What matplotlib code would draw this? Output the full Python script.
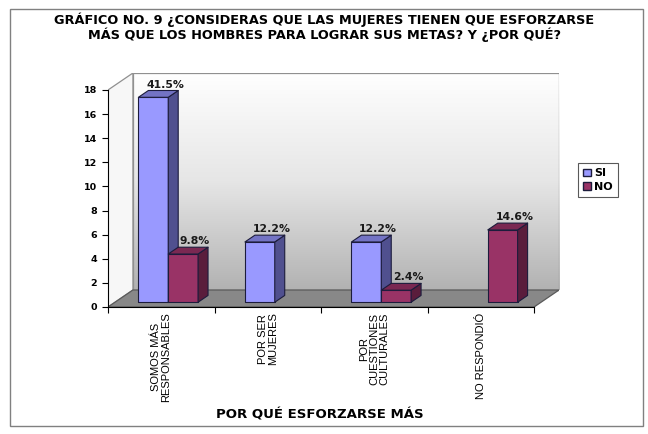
import numpy as np
import matplotlib.pyplot as plt
from matplotlib.colors import LinearSegmentedColormap
from matplotlib.patches import Polygon, Patch, Rectangle

plt.rcParams['font.family'] = ['Liberation Sans', 'DejaVu Sans']

categorias = ["SOMOS MÁS\nRESPONSABLES", "POR SER\nMUJERES",
              "POR\nCUESTIONES\nCULTURALES", "NO RESPONDIÓ"]
si = [17, 5, 5, 0]
no = [4, 0, 1, 6]
pct_si = ["41.5%", "12.2%", "12.2%", ""]
pct_no = ["9.8%", "", "2.4%", "14.6%"]
yticks = [0, 2, 4, 6, 8, 10, 12, 14, 16, 18]

titulo = ("GRÁFICO NO. 9 ¿CONSIDERAS QUE LAS MUJERES TIENEN QUE ESFORZARSE\n"
          "MÁS QUE LOS HOMBRES PARA LOGRAR SUS METAS? Y ¿POR QUÉ?")

# profundidad del efecto 3D (en unidades de datos)
DX, DY = 0.234, 1.41
W = 0.28          # ancho de cada barra
F0, F1 = 0.28, 0.68   # posicion de las barras dentro del fondo

col_si = ("#9999ff", "#7373c4", "#50508f")   # frente, arriba, lado
col_no = ("#993366", "#7a2852", "#5a1d3c")
borde = "#1c1c3c"
negrita = ['DejaVu Sans']

fig = plt.figure(figsize=(6.48, 4.34), dpi=100)
fig.patches.append(Rectangle((10 / 648, 1 - 426 / 434), 633 / 648, 417 / 434,
                             transform=fig.transFigure, fill=False,
                             edgecolor="#808080", linewidth=1.0))

ax = fig.add_axes([108 / 648, 1 - 307 / 434, 451 / 648, 234 / 434])
ax.set_xlim(0, len(categorias) + DX)
ax.set_ylim(0, yticks[-1] + DY)
ax.patch.set_visible(False)

ymax = yticks[-1]
n = len(categorias)

# pared del fondo con degradado (blanco arriba, gris abajo)
grad = np.linspace(1.0, 0.0, 256).reshape(-1, 1)
cmap_pared = LinearSegmentedColormap.from_list("pared", ["#ffffff", "#e6e6e6", "#b2b2b2"])
ax.imshow(grad, cmap=cmap_pared, vmin=0, vmax=1,
          extent=(DX, n + DX, DY, ymax + DY), aspect="auto", origin="lower", zorder=0)
ax.add_patch(Polygon([(DX, DY), (n + DX, DY), (n + DX, ymax + DY), (DX, ymax + DY)],
                     closed=True, fill=False, edgecolor="#909090", lw=0.9, zorder=1))
# pared izquierda
ax.add_patch(Polygon([(0, 0), (DX, DY), (DX, ymax + DY), (0, ymax)],
                     closed=True, facecolor="#f7f7f7", edgecolor="#909090", lw=0.9, zorder=1))
# piso
ax.add_patch(Polygon([(0, 0), (n, 0), (n + DX, DY), (DX, DY)],
                     closed=True, facecolor="#888888", edgecolor="#5a5a5a", lw=0.9, zorder=1))


def barra3d(x0, h, colores):
    fr, tp, sd = colores
    ox, oy = F0 * DX, F0 * DY
    bx, by = (F1 - F0) * DX, (F1 - F0) * DY
    x = x0 + ox
    caras = [
        ([(x, oy), (x + W, oy), (x + W, oy + h), (x, oy + h)], fr),
        ([(x + W, oy), (x + W + bx, oy + by), (x + W + bx, oy + h + by), (x + W, oy + h)], sd),
        ([(x, oy + h), (x + W, oy + h), (x + W + bx, oy + h + by), (x + bx, oy + h + by)], tp),
    ]
    for pts, c in caras:
        ax.add_patch(Polygon(pts, closed=True, facecolor=c, edgecolor=borde,
                             lw=0.8, joinstyle="round", zorder=3))


for i in range(n):
    centro = i + 0.5
    for x0, h, lab, cols in ((centro - W, si[i], pct_si[i], col_si),
                             (centro, no[i], pct_no[i], col_no)):
        if h <= 0:
            continue
        barra3d(x0, h, cols)
        ax.text(x0 + W / 2 + F0 * DX + 0.11, h + 1.45, lab, ha="center", va="center",
                fontsize=7.8, fontweight="bold", family=negrita, color="#1a1a1a", zorder=4)

# ejes
for s in ("top", "right"):
    ax.spines[s].set_visible(False)
ax.spines["left"].set_bounds(0, ymax)
ax.spines["bottom"].set_bounds(0, n)
ax.spines["left"].set_zorder(5)
ax.spines["bottom"].set_zorder(5)
ax.set_yticks(yticks)
ax.set_yticklabels([str(t) for t in yticks], fontsize=6.8, fontweight="bold", family=negrita)
ax.tick_params(axis="y", direction="out", length=4, pad=4)
ax.set_xticks(range(n + 1))
ax.set_xticklabels([])
ax.tick_params(axis="x", which="major", direction="out", length=4)
ax.set_xticks([i + 0.5 for i in range(n)], minor=True)
ax.set_xticklabels(categorias, minor=True, rotation=90, fontsize=8,
                   ha="center", va="top", multialignment="center", linespacing=1.05)
ax.tick_params(axis="x", which="minor", length=0, pad=4)

fig.text(0.5, 1 - 27 / 434, titulo, ha="center", va="center", fontsize=9.3,
         fontweight="bold", family=negrita, linespacing=1.0)
fig.text(320 / 648, 1 - 415 / 434, "POR QUÉ ESFORZARSE MÁS", ha="center", va="center",
         fontsize=9.5, fontweight="bold", family=negrita)

handles = [Patch(facecolor=col_si[0], edgecolor=borde, label="SI"),
           Patch(facecolor=col_no[0], edgecolor=borde, label="NO")]
leg = fig.legend(handles=handles, loc="center", bbox_to_anchor=(598 / 648, 1 - 180 / 434),
                 prop={"size": 8, "weight": "bold", "family": negrita}, frameon=True,
                 fancybox=False, handlelength=0.7, handleheight=0.7, handletextpad=0.3,
                 borderpad=0.45, labelspacing=0.3, borderaxespad=0)
leg.get_frame().set_edgecolor("#303030")
leg.get_frame().set_linewidth(0.8)

fig.savefig("out.png", dpi=100)
